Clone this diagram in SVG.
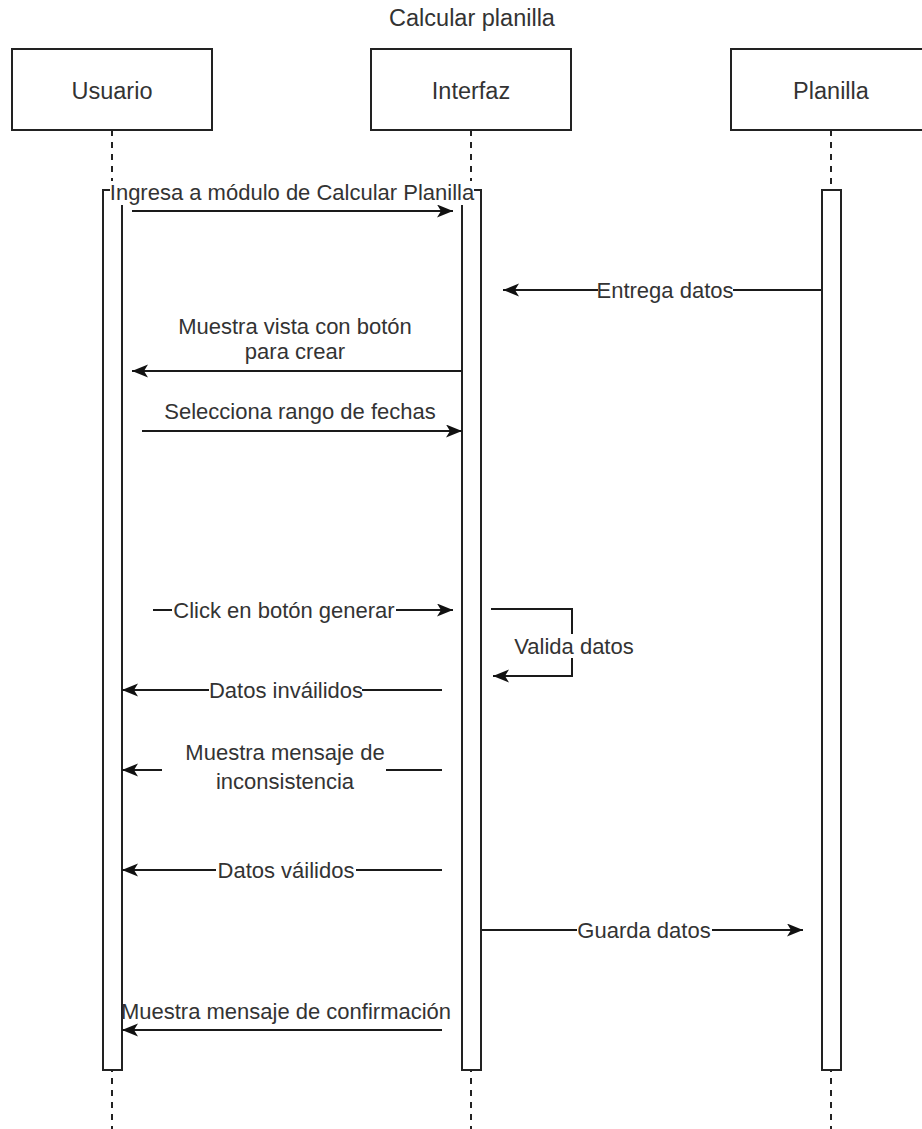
<svg xmlns="http://www.w3.org/2000/svg" width="922" height="1129" viewBox="0 0 922 1129">
  <style>
    .box { fill: #ffffff; stroke: #222222; stroke-width: 2; }
    .life { stroke: #222222; stroke-width: 2; stroke-dasharray: 6 6; fill: none; }
    .bar { fill: #ffffff; stroke: #222222; stroke-width: 2; }
    .msg { stroke: #1a1a1a; stroke-width: 2; fill: none; marker-end: url(#arrow); }
    .head { font-family: "Liberation Sans", Arial, sans-serif; font-size: 23.5px; fill: #333333; text-anchor: middle; }
    .lbl { font-family: "Liberation Sans", Arial, sans-serif; font-size: 22px; fill: #333333; text-anchor: middle; }
    .bg { fill: #ffffff; stroke: none; }
  </style>
  <defs>
    <marker id="arrow" markerUnits="userSpaceOnUse" markerWidth="18" markerHeight="14" refX="16" refY="6.5" orient="auto">
      <path d="M0,0 L16,6.5 L0,13 L4,6.5 Z" fill="#111111"/>
    </marker>
  </defs>

  <rect width="922" height="1129" fill="#ffffff"/>

  <text class="head" x="472" y="26">Calcular planilla</text>

  <!-- Usuario -->
  <g id="usuario">
    <line class="life" x1="112" y1="130" x2="112" y2="1129"/>
    <rect class="box" x="12" y="49" width="200" height="81"/>
    <text class="head" x="112" y="99">Usuario</text>
    <rect class="bar" x="103" y="190" width="19" height="880"/>
  </g>

  <!-- Interfaz -->
  <g id="interfaz">
    <line class="life" x1="471" y1="130" x2="471" y2="1129"/>
    <rect class="box" x="371" y="49" width="200" height="81"/>
    <text class="head" x="471" y="99">Interfaz</text>
    <rect class="bar" x="462" y="190" width="19" height="880"/>
  </g>

  <!-- Planilla -->
  <g id="planilla">
    <line class="life" x1="831" y1="130" x2="831" y2="1129"/>
    <rect class="box" x="731" y="49" width="200" height="81"/>
    <text class="head" x="831" y="99">Planilla</text>
    <rect class="bar" x="822" y="190" width="19" height="880"/>
  </g>

  <!-- messages -->
  <g id="connectors">
    <line class="msg" x1="132" y1="211" x2="453" y2="211"/>
    <line class="msg" x1="821" y1="290" x2="503" y2="290"/>
    <line class="msg" x1="462" y1="371" x2="132" y2="371"/>
    <line class="msg" x1="142" y1="431" x2="462" y2="431"/>
    <line class="msg" x1="153" y1="610" x2="453" y2="610"/>
    <path class="msg" d="M491,609 H572 V676 H493"/>
    <line class="msg" x1="442" y1="690" x2="122" y2="690"/>
    <line class="msg" x1="442" y1="770" x2="122" y2="770"/>
    <line class="msg" x1="442" y1="870" x2="122" y2="870"/>
    <line class="msg" x1="482" y1="930" x2="803" y2="930"/>
    <line class="msg" x1="442" y1="1030" x2="122" y2="1030"/>
  </g>

  <!-- message labels -->
  <g id="labels">
    <rect class="bg" x="110" y="181" width="364" height="24"/>
    <text class="lbl" x="292" y="200">Ingresa a módulo de Calcular Planilla</text>

    <rect class="bg" x="598" y="279" width="135" height="22"/>
    <text class="lbl" x="665" y="298">Entrega datos</text>

    <text class="lbl" x="295" y="334">Muestra vista con botón</text>
    <text class="lbl" x="295" y="359">para crear</text>

    <text class="lbl" x="300" y="419">Selecciona rango de fechas</text>

    <rect class="bg" x="172" y="599" width="224" height="22"/>
    <text class="lbl" x="284" y="618">Click en botón generar</text>

    <rect class="bg" x="514" y="634" width="120" height="24"/>
    <text class="lbl" x="574" y="654">Valida datos</text>

    <rect class="bg" x="209" y="679" width="153" height="22"/>
    <text class="lbl" x="286" y="698">Datos inváilidos</text>

    <rect class="bg" x="162" y="740" width="224" height="54"/>
    <text class="lbl" x="285" y="760">Muestra mensaje de</text>
    <text class="lbl" x="285" y="789">inconsistencia</text>

    <rect class="bg" x="216" y="859" width="140" height="22"/>
    <text class="lbl" x="286" y="878">Datos váilidos</text>

    <rect class="bg" x="577" y="919" width="135" height="22"/>
    <text class="lbl" x="644" y="938">Guarda datos</text>

    <text class="lbl" x="286" y="1019">Muestra mensaje de confirmación</text>
  </g>
</svg>
